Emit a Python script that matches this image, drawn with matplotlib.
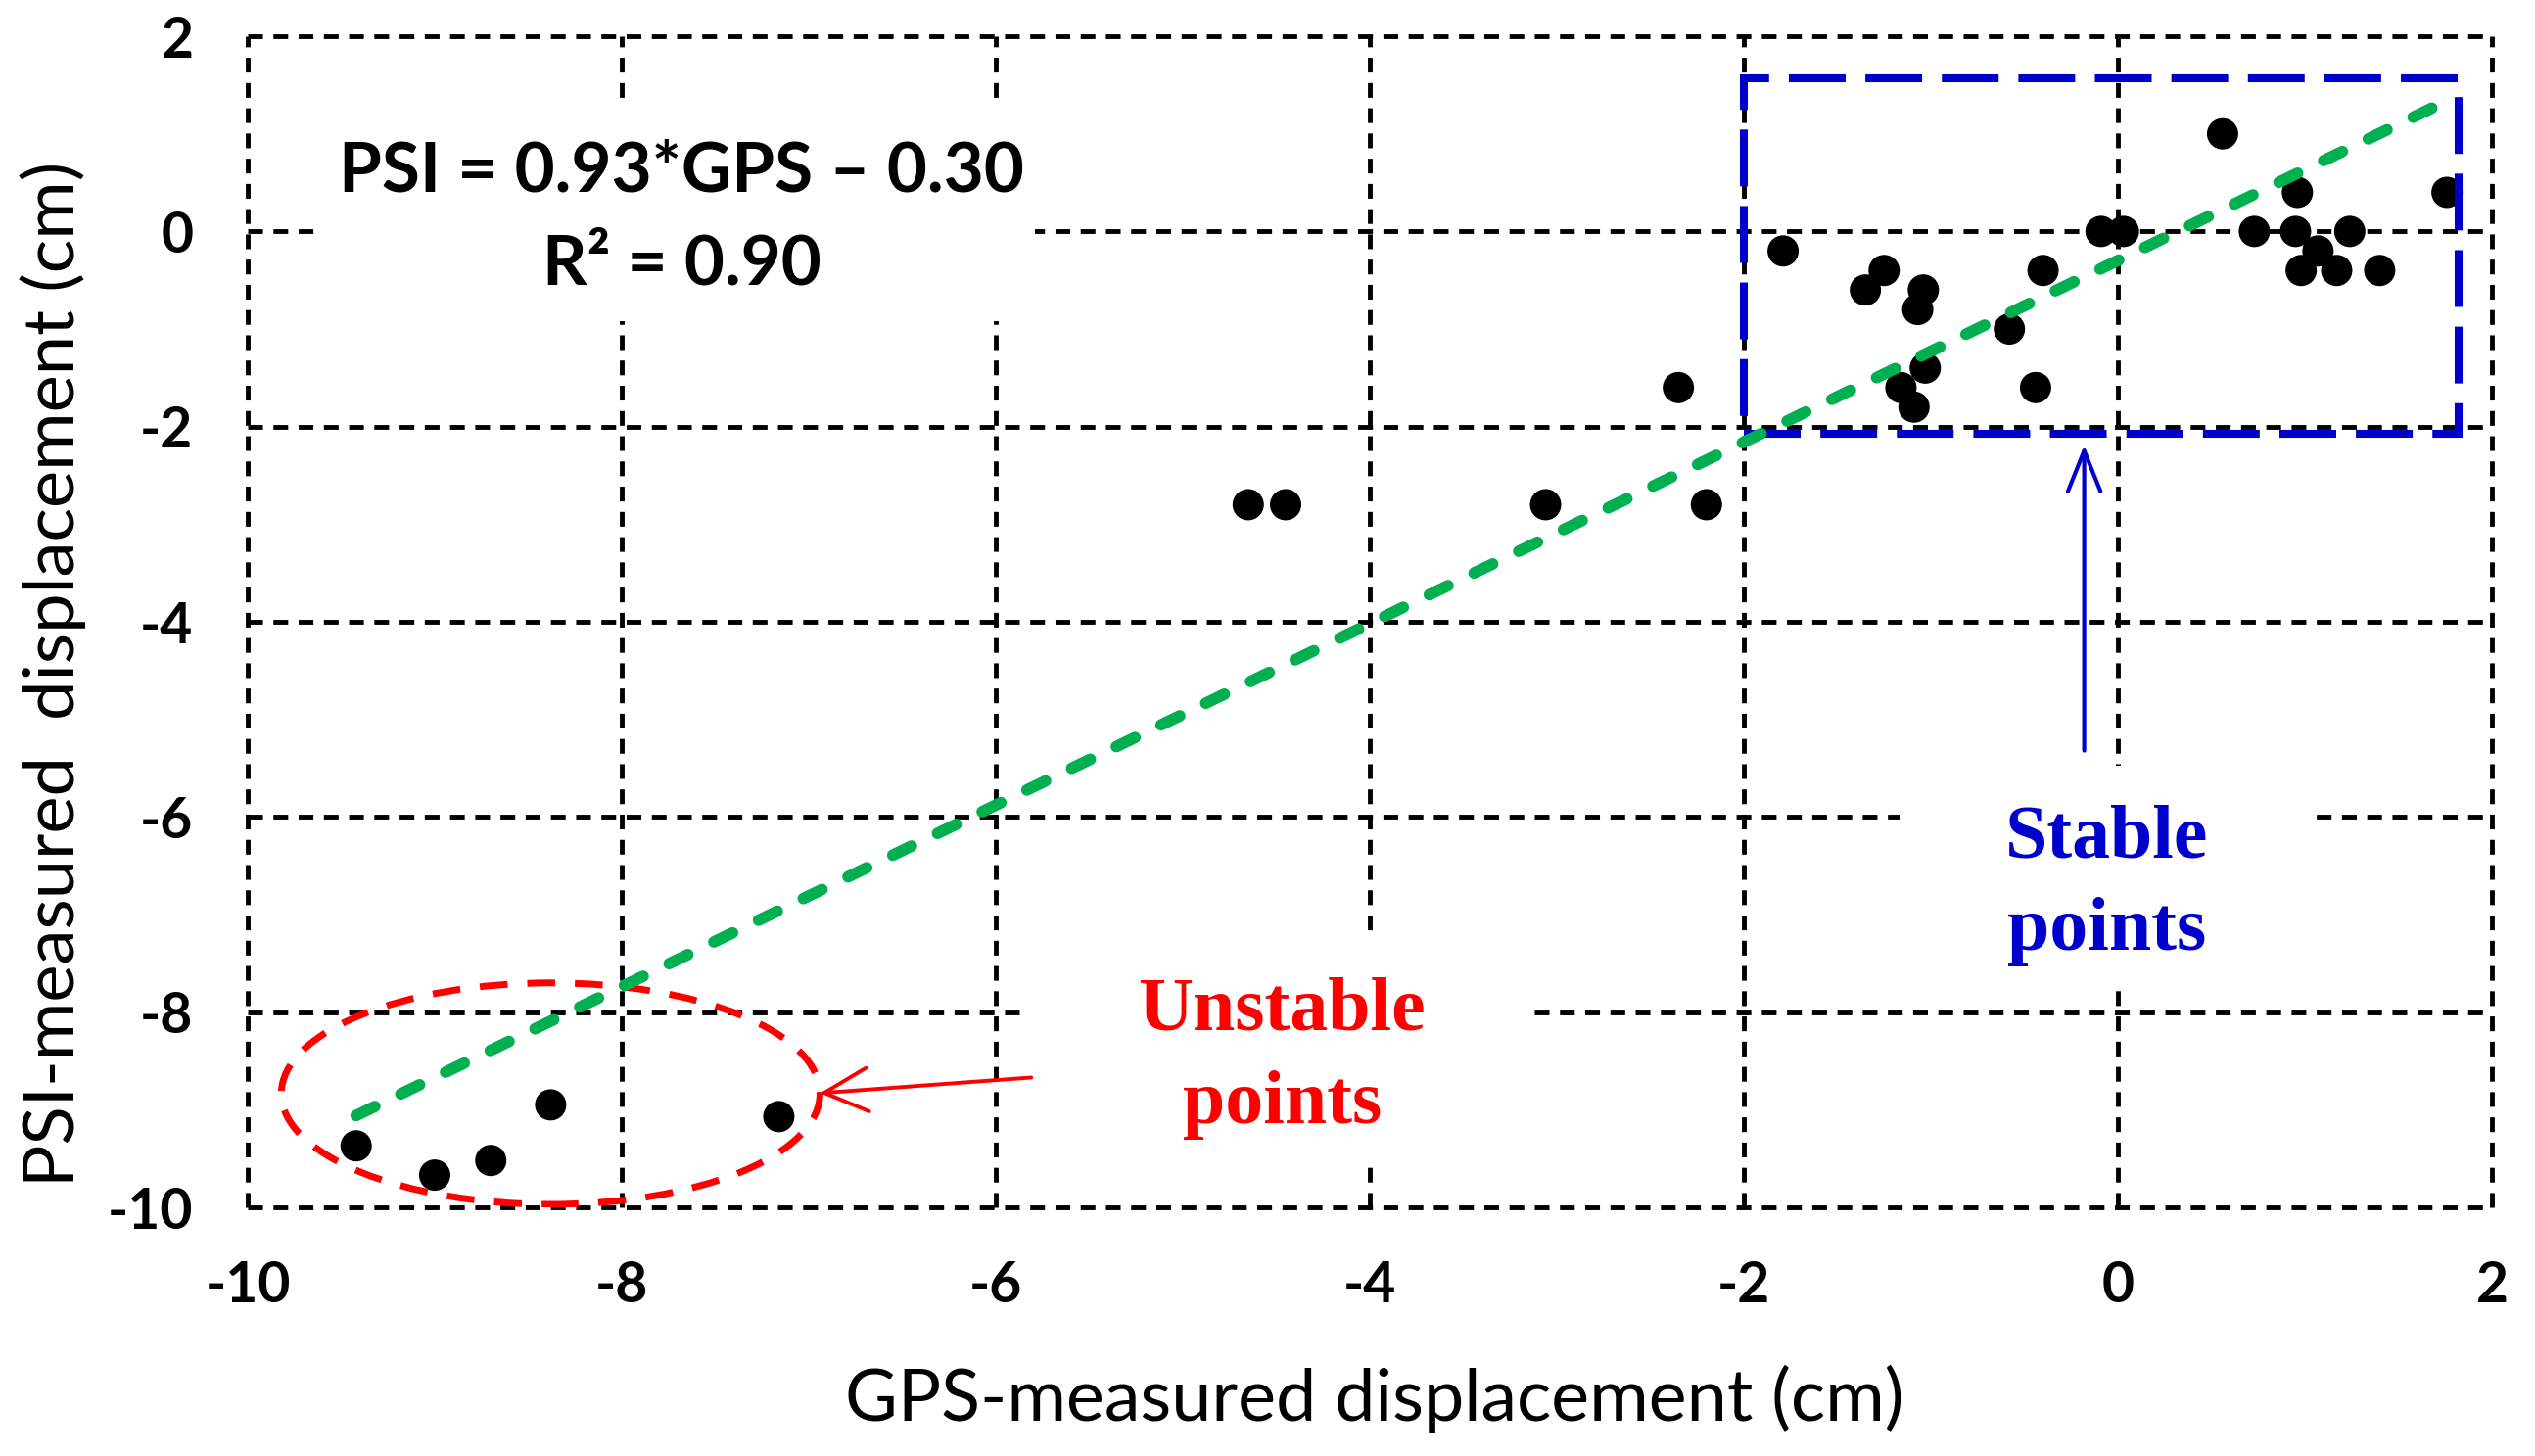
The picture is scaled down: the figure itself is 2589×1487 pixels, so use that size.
import matplotlib
matplotlib.use("Agg")
import matplotlib.pyplot as plt
from matplotlib.patches import Ellipse, Rectangle

# GPS vs PSI displacement (cm)
gps = [-9.42, -9.00, -8.70, -8.38, -7.16,
       -4.65, -4.45, -3.06, -2.35, -2.20,
       -1.79, -1.35, -1.25, -1.16, -1.09, -1.07, -1.04, -1.03,
       -0.58, -0.44, -0.40, -0.09, 0.03,
       0.56, 0.73, 0.95, 0.96, 0.98, 1.07, 1.17, 1.24, 1.40, 1.76]
psi = [-9.37, -9.67, -9.52, -8.95, -9.07,
       -2.80, -2.80, -2.80, -1.60, -2.80,
       -0.20, -0.60, -0.40, -1.60, -1.80, -0.80, -0.60, -1.40,
       -1.00, -1.60, -0.40, 0.00, 0.00,
       1.00, 0.00, 0.00, 0.40, -0.40, -0.20, -0.40, 0.00, -0.40, 0.40]

# trend line end points (PSI = 0.93*GPS - 0.30)
trend_x = [-9.42, 1.75]
trend_y = [-9.06, 1.33]

x_ticks = [-10, -8, -6, -4, -2, 0, 2]
y_ticks = [-10, -8, -6, -4, -2, 0, 2]

GREEN = "#00B050"
BLUE = "#0000CC"
RED = "#FF0000"
GRID_DASH = (0, (3.1, 2.2))

plt.rcParams["axes.unicode_minus"] = False

fig = plt.figure(figsize=(25.89, 14.87), dpi=100)
ax = fig.add_axes([0.0977, 0.1708, 0.8853, 0.8043])
ax.set_xlim(-10, 2)
ax.set_ylim(-10, 2)

for s in ax.spines.values():
    s.set_visible(False)

# dashed grid, frame included
for v in x_ticks:
    ax.axvline(v, color="black", lw=3.5, ls=GRID_DASH, clip_on=False, zorder=1)
for v in y_ticks:
    ax.axhline(v, color="black", lw=3.5, ls=GRID_DASH, clip_on=False, zorder=1)

# white backgrounds behind the annotations
ax.add_patch(Rectangle((-9.64, -0.92), 3.85, 2.27, facecolor="white", edgecolor="none", zorder=2))
ax.add_patch(Rectangle((-5.82, -9.49), 2.70, 2.30, facecolor="white", edgecolor="none", zorder=2))
ax.add_patch(Rectangle((-1.17, -7.71), 2.22, 2.24, facecolor="white", edgecolor="none", zorder=2))

ax.scatter(gps, psi, s=530, color="black", edgecolors="none", zorder=3)

# highlight regions
ax.add_patch(Rectangle((-2.0, -2.07), 3.82, 3.64, fill=False, edgecolor=BLUE,
                       lw=5.8, ls=(0, (7.2, 2.5)), zorder=4))
ax.add_patch(Ellipse((-8.38, -8.835), 2.88, 2.27, fill=False, edgecolor=RED,
                     lw=5.0, ls=(0, (4.1, 2.9)), zorder=4))

ax.plot(trend_x, trend_y, color=GREEN, lw=8.5, ls=(0, (1.8, 2.5)),
        dash_capstyle="round", solid_capstyle="round", zorder=5)

eq_font = dict(family="Lato", weight="bold", fontsize=51, color="black", ha="center", va="baseline", zorder=6)
ax.text(-7.68, 0.414, "PSI = 0.93*GPS \u2013 0.30", **eq_font)
ax.text(-7.68, -0.539, "R\u00b2 = 0.90", **eq_font)

lab_font = dict(family="Liberation Serif", weight="bold", fontsize=56, ha="center", va="baseline", zorder=6)
ax.text(-4.47, -8.18, "Unstable", color=RED, **lab_font)
ax.text(-4.47, -9.14, "points", color=RED, **lab_font)
ax.text(-0.06, -6.41, "Stable", color=BLUE, **lab_font)
ax.text(-0.06, -7.36, "points", color=BLUE, **lab_font)

ax.annotate("", xy=(-6.94, -8.83), xytext=(-5.81, -8.67),
            arrowprops=dict(arrowstyle="->,head_length=3.2,head_width=1.6", color=RED,
                            lw=2.8, mutation_scale=10, shrinkA=0, shrinkB=0), zorder=6)
ax.annotate("", xy=(-0.18, -2.19), xytext=(-0.18, -5.32),
            arrowprops=dict(arrowstyle="->,head_length=3.0,head_width=1.2", color=BLUE,
                            lw=3.0, mutation_scale=10, shrinkA=0, shrinkB=0), zorder=6)

ax.set_xticks(x_ticks)
ax.set_yticks(y_ticks)
ax.tick_params(length=0)
ax.tick_params(axis="x", pad=39)
ax.tick_params(axis="y", pad=40)
for lbl in ax.get_xticklabels() + ax.get_yticklabels():
    lbl.set_family("Lato")
    lbl.set_fontweight("bold")
    lbl.set_fontsize(41)

ax.set_xlabel("GPS-measured displacement (cm)", family="Lato", fontsize=53)
ax.set_ylabel("PSI-measured  displacement (cm)", family="Lato", fontsize=52)
ax.xaxis.set_label_coords(0.502, -0.1346)
ax.yaxis.set_label_coords(-0.072, 0.455)

fig.savefig("out.png", dpi=100)
